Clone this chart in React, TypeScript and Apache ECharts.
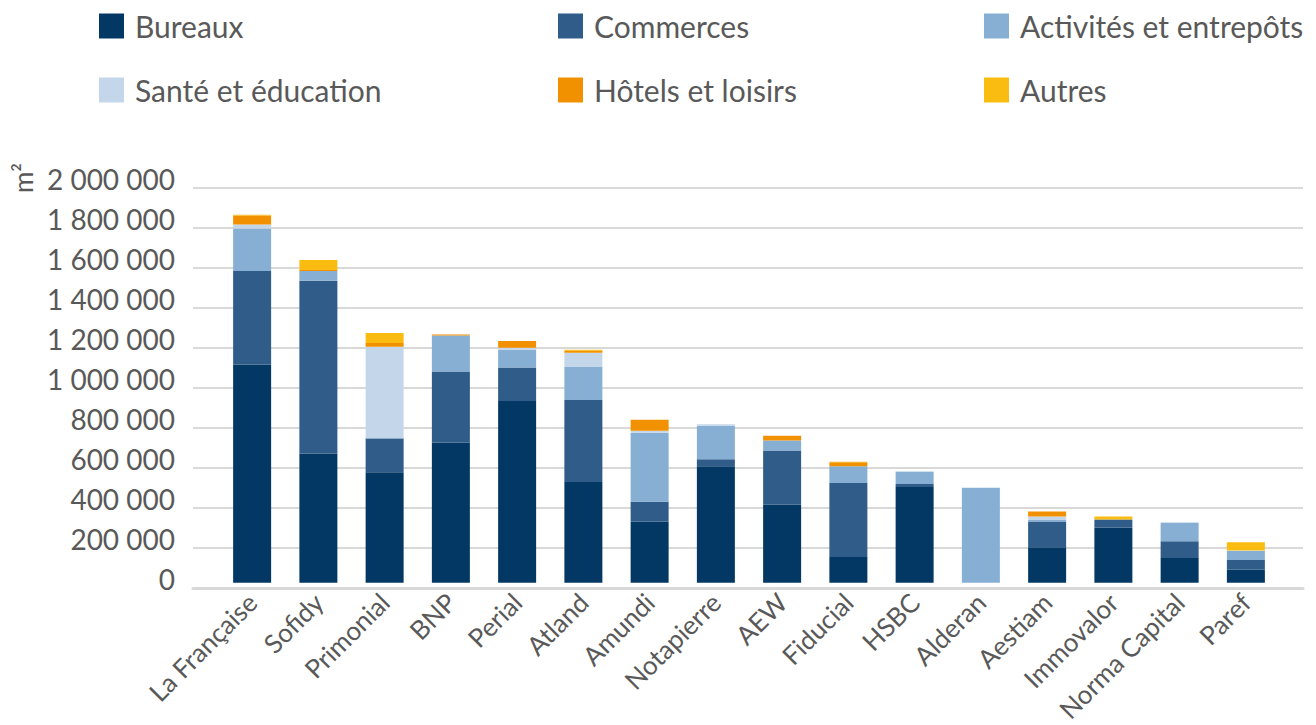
import React, { useEffect, useRef } from "react";
import * as echarts from "echarts";

const categories = [
  "La Française", "Sofidy", "Primonial", "BNP", "Perial", "Atland", "Amundi", "Notapierre",
  "AEW", "Fiducial", "HSBC", "Alderan", "Aestiam", "Immovalor", "Norma Capital", "Paref",
];

const bureaux = [1105000, 655000, 560000, 710000, 920000, 510000, 310000, 590000, 395000, 130000, 485000, 0, 180000, 280000, 125000, 65000];
const commerces = [475000, 875000, 170000, 360000, 170000, 415000, 100000, 35000, 275000, 375000, 15000, 0, 130000, 40000, 85000, 50000];
const activites = [215000, 50000, 5000, 182000, 90000, 170000, 350000, 170000, 50000, 85000, 62000, 480000, 10000, 0, 93000, 45000];
const sante = [20000, 0, 460000, 0, 10000, 70000, 10000, 8000, 0, 0, 3000, 2000, 15000, 0, 3000, 3000];
const hotels = [46000, 5000, 20000, 5000, 35000, 10000, 55000, 0, 25000, 20000, 0, 0, 25000, 0, 0, 0];
const autres = [3000, 50000, 50000, 0, 0, 5000, 0, 0, 0, 3000, 0, 0, 0, 15000, 0, 42000];

const seriesNames = [
  "Bureaux", "Commerces", "Activités et entrepôts", "Santé et éducation", "Hôtels et loisirs", "Autres",
];
const seriesData = [bureaux, commerces, activites, sante, hotels, autres];
const colors = ["#033864", "#2F5C89", "#86AFD3", "#C4D7EA", "#F29100", "#FBBC12"];

const yMin = 0;
const yMax = 2000000;
const yStep = 200000;

const fmt = (v: number) => String(v).replace(/\B(?=(\d{3})+(?!\d))/g, " ");

export default function App() {
  const ref = useRef<HTMLDivElement>(null);
  useEffect(() => {
    document.body.style.margin = "0";
    const chart = echarts.init(ref.current!, null, { renderer: "svg" });
    const legendPos = [
      [99, 11], [558, 11], [984, 11],
      [99, 75], [558, 75], [984, 75],
    ];
    chart.setOption({
      animation: false,
      textStyle: { fontFamily: "Lato" },
      legend: seriesNames.map((n, i) => ({
        data: [n],
        left: legendPos[i][0],
        top: legendPos[i][1],
        padding: 0,
        icon: "rect",
        itemWidth: 25,
        itemHeight: 25,
        textStyle: { fontSize: 30, color: "#595959", padding: [0, 0, 0, 6], fontFamily: "Lato" },
      })),
      grid: [
        { left: 193, right: 13, top: 188, bottom: 137 },
        { left: 219, right: 37, top: 188, bottom: 137 },
      ],
      xAxis: [
        {
          gridIndex: 0, type: "value", min: 0, max: 1, z: 5,
          axisLine: { show: true, onZero: false, lineStyle: { color: "#D9D9D9", width: 3 } },
          axisTick: { show: false }, axisLabel: { show: false }, splitLine: { show: false },
        },
        {
          gridIndex: 1, type: "category", data: categories,
          axisLine: { show: false }, axisTick: { show: false },
          axisLabel: { rotate: 45, interval: 0, fontSize: 26, color: "#595959", margin: 15, fontFamily: "Lato" },
        },
      ],
      yAxis: [
        {
          gridIndex: 0, type: "value", min: yMin, max: yMax, interval: yStep,
          axisLine: { show: false }, axisTick: { show: false },
          axisLabel: {
            fontSize: 28, color: "#595959", margin: 18, formatter: (v: number) => fmt(v),
            verticalAlign: "bottom", lineHeight: 18, fontFamily: "Lato",
          },
          splitLine: { lineStyle: { color: "#D9D9D9", width: 2 } },
        },
        { gridIndex: 1, type: "value", min: yMin, max: yMax, interval: yStep, show: false, splitLine: { show: false } },
      ],
      graphic: [
        {
          type: "text", x: 23, y: 178, rotation: Math.PI / 2,
          style: { text: "m²", fontSize: 26, fill: "#595959", fontFamily: "Lato", align: "center", verticalAlign: "middle" },
        },
      ],
      series: seriesNames.map((n, i) => ({
        name: n,
        type: "bar",
        stack: "total",
        xAxisIndex: 1,
        yAxisIndex: 1,
        barWidth: 38,
        itemStyle: { color: colors[i] },
        data: seriesData[i],
      })),
    });
    return () => chart.dispose();
  }, []);
  return <div ref={ref} style={{ width: 1316, height: 725 }} />;
}
